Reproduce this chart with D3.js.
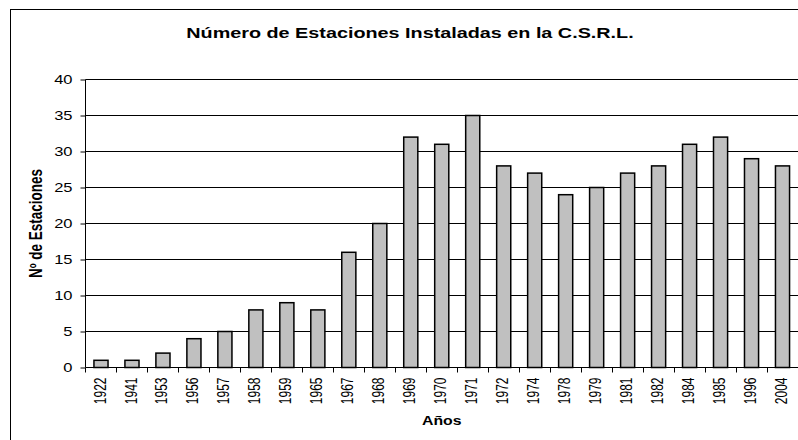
<!DOCTYPE html>
<html>
<head>
<meta charset="utf-8">
<script src="https://cdn.jsdelivr.net/npm/d3@7"></script>
<style>
  body { margin: 0; background: #fff; }
  text { font-family: "Liberation Sans", Arial, sans-serif; }
</style>
</head>
<body>
<div id="chart"></div>
<script>
var years = ['1922', '1941', '1953', '1956', '1957', '1958', '1959', '1965', '1967', '1968', '1969', '1970',
    '1971', '1972', '1974', '1978', '1979', '1981', '1982', '1984', '1985', '1996', '2004'];
var stations = [1, 1, 2, 4, 5, 8, 9, 8, 16, 20, 32, 31, 35, 28, 27, 24, 25, 27, 28, 31, 32, 29, 28];
var yTicks = [0, 5, 10, 15, 20, 25, 30, 35, 40];

drawBars('chart');

function drawBars(divName) {
    var svgwidth = 798, svgheight = 440;
    var sx = 1.32; // el texto del original esta estirado en horizontal
    var svg = d3.select('#' + divName).append('svg')
        .attr('width', svgwidth)
        .attr('height', svgheight);

    // marco exterior del grafico
    svg.append('rect')
        .attr('x', 10.5).attr('y', 9.5)
        .attr('width', 820).attr('height', 460)
        .attr('fill', 'none').attr('stroke', '#000').attr('stroke-width', 1);

    var margin = {top: 79.5, left: 85.5, right: 0, bottom: 72.5};
    var w = svgwidth - margin.left - margin.right;
    var h = svgheight - margin.top - margin.bottom;

    var x = d3.scaleBand().domain(years).range([0, w]).paddingInner(0.545).paddingOuter(0.2725);
    var y = d3.scaleLinear().domain([0, 40]).range([h, 0]);

    var g = svg.append('g').attr('transform', 'translate(' + margin.left + ',' + margin.top + ')');

    // lineas de division
    g.append('g').selectAll('line')
        .data(yTicks.filter(function (d) { return d > 0; }))
        .enter().append('line')
        .attr('x1', 0).attr('x2', w + 2)
        .attr('y1', function (d) { return Math.round(y(d)); })
        .attr('y2', function (d) { return Math.round(y(d)); })
        .attr('stroke', '#000').attr('stroke-width', 1);

    // barras
    g.append('g').selectAll('rect')
        .data(stations)
        .enter().append('rect')
        .attr('x', function (d, i) { return x(years[i]); })
        .attr('y', function (d) { return y(d); })
        .attr('width', x.bandwidth())
        .attr('height', function (d) { return h - y(d); })
        .attr('fill', '#C0C0C0')
        .attr('stroke', '#000')
        .attr('stroke-width', 1.5);

    // eje Y
    var yAxis = g.append('g')
        .call(d3.axisLeft(y).tickValues(yTicks).tickSize(5));
    yAxis.select('.domain').attr('d', 'M0,0V' + h).attr('stroke', '#000');
    yAxis.selectAll('text')
        .attr('x', 0)
        .attr('transform', 'translate(-13,0) scale(' + sx + ',1)')
        .attr('font-size', '12.5px').attr('fill', '#000')
        .style('font-family', '"Liberation Sans", Arial, sans-serif');

    // eje X
    var xb = d3.scaleLinear().domain([0, years.length]).range([0, w]);
    var xAxis = g.append('g').attr('transform', 'translate(0,' + h + ')');
    xAxis.append('line').attr('x1', 0).attr('x2', w + 2).attr('y1', 0).attr('y2', 0).attr('stroke', '#000');
    xAxis.selectAll('.tk')
        .data(d3.range(years.length + 1))
        .enter().append('line')
        .attr('class', 'tk')
        .attr('x1', function (d) { return Math.round(xb(d)); })
        .attr('x2', function (d) { return Math.round(xb(d)); })
        .attr('y1', 0).attr('y2', 5)
        .attr('stroke', '#000');
    xAxis.selectAll('text')
        .data(years)
        .enter().append('text')
        .attr('transform', function (d) {
            return 'translate(' + (x(d) + x.bandwidth() / 2 - 1) + ',10) scale(' + sx + ',1) rotate(-90)';
        })
        .attr('text-anchor', 'end')
        .attr('dy', '0.35em')
        .attr('font-size', '12px')
        .attr('fill', '#000')
        .text(function (d) { return d; });

    // titulos
    svg.append('text')
        .attr('transform', 'translate(410,38) scale(' + sx + ',1)')
        .attr('text-anchor', 'middle')
        .attr('font-size', '15px').attr('font-weight', 'bold')
        .text('Número de Estaciones Instaladas en la C.S.R.L.');

    svg.append('text')
        .attr('transform', 'translate(' + (margin.left + w / 2) + ',425) scale(' + sx + ',1)')
        .attr('text-anchor', 'middle')
        .attr('font-size', '12px').attr('font-weight', 'bold')
        .text('Años');

    svg.append('text')
        .attr('transform', 'translate(42,' + (margin.top + h / 2) + ') scale(' + sx + ',1) rotate(-90)')
        .attr('text-anchor', 'middle')
        .attr('font-size', '13.5px').attr('font-weight', 'bold')
        .text('Nº de Estaciones');
}
</script>
</body>
</html>
